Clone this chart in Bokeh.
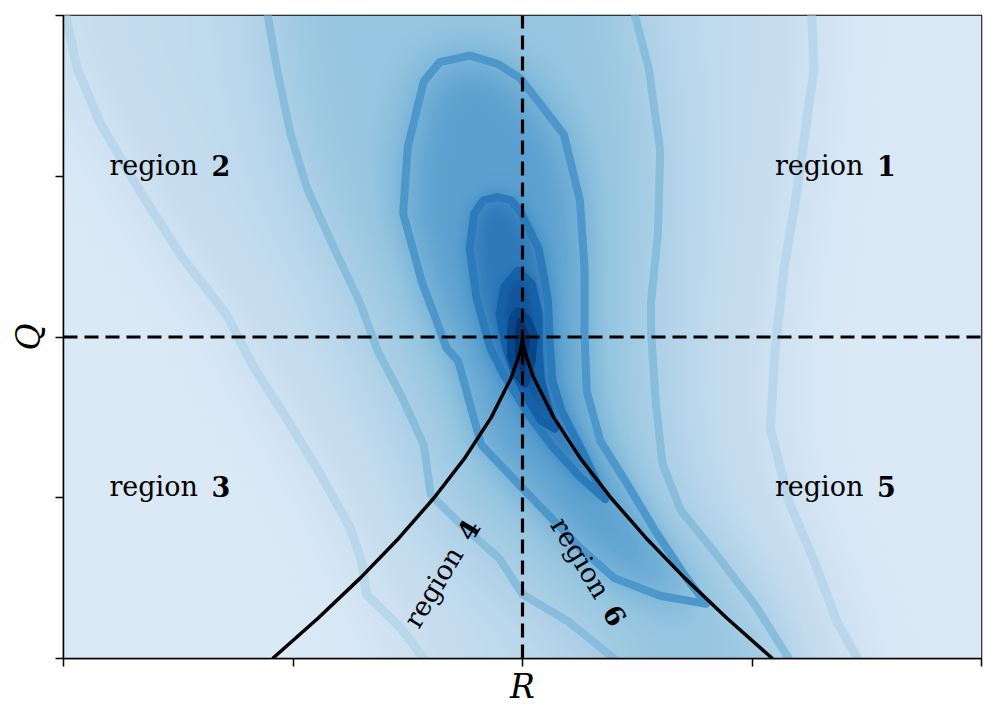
import math
import numpy as np
from bokeh.plotting import figure
from bokeh.models import FixedTicker, Range1d, LinearColorMapper
from bokeh.embed import file_html
from bokeh.resources import INLINE
from bokeh.core.properties import value

# ---------------- data ----------------
r_ticks = [-2, -1, 0, 1, 2]
q_ticks = [-2, -1, 0, 1, 2]

# outermost (lightest) contour level: two open branches (top edge -> bottom edge)
a_left_r = [-1.99, -1.94, -1.84, -1.66, -1.48, -1.29, -1.17, -1.04, -0.89, -0.75, -0.70, -0.68, -0.53, -0.43]
a_left_q = [2.00, 1.67, 1.33, 0.89, 0.49, 0.14, -0.19, -0.48, -0.83, -1.19, -1.40, -1.60, -1.81, -2.00]
a_right_r = [1.26, 1.27, 1.23, 1.19, 1.14, 1.10, 1.08, 1.16, 1.27, 1.37, 1.46]
a_right_q = [2.00, 1.67, 1.26, 0.85, 0.43, -0.09, -0.57, -1.02, -1.39, -1.77, -2.00]

# second contour level: two open branches
b_left_r = [-1.11, -1.07, -1.01, -0.94, -0.82, -0.71, -0.63, -0.53, -0.43, -0.40, -0.28, -0.10, 0.00, 0.20, 0.40]
b_left_q = [2.00, 1.67, 1.26, 0.93, 0.55, 0.22, -0.09, -0.36, -0.67, -0.98, -1.15, -1.38, -1.60, -1.77, -2.00]
b_right_r = [0.49, 0.55, 0.60, 0.59, 0.56, 0.56, 0.58, 0.61, 0.69, 0.81, 1.01, 1.16]
b_right_q = [2.00, 1.67, 1.16, 0.64, 0.22, 0.04, -0.40, -0.79, -1.08, -1.29, -1.66, -2.00]

# third contour level: closed teardrop with a long tail along the right Vieillefosse branch
c_r = [-0.23, -0.11, -0.01, 0.18, 0.25, 0.27, 0.27, 0.28, 0.34, 0.45, 0.58, 0.71, 0.80,
       0.60, 0.40, 0.25, 0.00, -0.18, -0.28, -0.33, -0.44, -0.52, -0.50, -0.43, -0.36, -0.23]
c_q = [1.75, 1.70, 1.61, 1.26, 0.85, 0.43, 0.02, -0.34, -0.65, -0.90, -1.21, -1.49, -1.66,
       -1.61, -1.50, -1.31, -0.94, -0.67, -0.15, -0.07, 0.35, 0.77, 1.18, 1.59, 1.71, 1.75]

# fourth contour level (closed)
d_r = [-0.11, -0.05, -0.01, 0.07, 0.11, 0.12, 0.13, 0.17, 0.25, 0.36,
       0.25, 0.13, 0.03, -0.03, -0.08, -0.14, -0.20, -0.23, -0.21, -0.17, -0.11]
d_q = [0.87, 0.85, 0.78, 0.55, 0.24, -0.07, -0.27, -0.46, -0.68, -1.01,
       -0.87, -0.68, -0.49, -0.35, -0.24, -0.07, 0.24, 0.55, 0.77, 0.85, 0.87]

# fifth contour level (closed)
e_r = [-0.02, 0.04, 0.07, 0.07, 0.08, 0.11, 0.14, 0.08, 0.03, -0.03, -0.07, -0.10, -0.08, -0.02]
e_q = [0.41, 0.33, 0.14, -0.07, -0.27, -0.43, -0.57, -0.52, -0.40, -0.24, -0.07, 0.14, 0.31, 0.41]

# innermost contour level (closed)
f_r = [-0.02, 0.02, 0.05, 0.04, 0.01, -0.02, -0.05, -0.05, -0.04, -0.02]
f_q = [0.16, 0.11, 0.01, -0.15, -0.29, -0.24, -0.12, 0.04, 0.12, 0.16]

# Vieillefosse line, one branch; the other is its mirror
vf_q = [0.00, -0.05, -0.10, -0.25, -0.50, -0.75, -1.00, -1.25, -1.50, -1.75, -2.00]
vf_r = [0.000, 0.004, 0.012, 0.048, 0.136, 0.250, 0.385, 0.538, 0.707, 0.891, 1.089]

# region labels: text, number, anchor (R, Q), angle in degrees
lab_text = ["region", "region", "region", "region", "region", "region"]
lab_num = ["1", "2", "3", "5", "4", "6"]
lab_r = [1.10, -1.80, -1.80, 1.10, -0.488, 0.153]
lab_q = [1.00, 1.00, -1.00, -1.00, -1.792, -1.138]
lab_ang = [0, 0, 0, 0, 59, -58.8]

# ---------------- styling ----------------
LEVEL_COLORS = ["#dbe9f6", "#c1daed", "#95c5e0", "#5aa0cf", "#2f79b9", "#12559c", "#08306b"]
LINE = ["#b9d6ea", "#88bddc", "#4d97cb", "#2b7bbb", "#1461a8", "#08468a"]
BLUR = [40, 36, 20, 8, 4, 2]          # softening of each level's edge, in image pixels
SERIF = "DejaVu Serif"
FW, FH = 918, 643

p = figure(frame_width=FW, frame_height=FH,
           x_range=Range1d(-2, 2), y_range=Range1d(-2, 2),
           output_backend="svg", toolbar_location=None,
           min_border_left=63, min_border_right=12, min_border_top=15, min_border_bottom=55)
p.background_fill_color = LEVEL_COLORS[0]
p.border_fill_color = "white"
p.outline_line_color = "black"
p.outline_line_width = 1.5
p.xgrid.visible = False
p.ygrid.visible = False

# ---- shaded density image built from the read contour polygons ----
a_poly = (a_left_r + a_right_r[::-1], a_left_q + a_right_q[::-1])
b_poly = (b_left_r + b_right_r[::-1], b_left_q + b_right_q[::-1])
polys = [a_poly, b_poly, (c_r, c_q), (d_r, d_q), (e_r, e_q), (f_r, f_q)]

W, H = FW // 2, FH // 2
gx = -2 + (np.arange(W) + 0.5) * 4.0 / W
gy = -2 + (np.arange(H) + 0.5) * 4.0 / H
X, Y = np.meshgrid(gx, gy)


def inside(xs, ys):
    xs = np.asarray(xs, float)
    ys = np.asarray(ys, float)
    c = np.zeros(X.shape, bool)
    n = len(xs)
    j = n - 1
    for i in range(n):
        xi, yi, xj, yj = xs[i], ys[i], xs[j], ys[j]
        cross = (yi > Y) != (yj > Y)
        xint = (xj - xi) * (Y - yi) / ((yj - yi) if yj != yi else 1e-12) + xi
        c ^= cross & (X < xint)
        j = i
    return c.astype(float)


def box_blur(a, r):
    if r < 1:
        return a
    for axis in (0, 1):
        pad = [(0, 0), (0, 0)]
        pad[axis] = (r, r)
        b = np.pad(a, pad, mode="edge")
        cs = np.cumsum(b, axis=axis)
        cs = np.concatenate([np.zeros_like(np.take(cs, [0], axis=axis)), cs], axis=axis)
        n = a.shape[axis]
        hi = np.take(cs, np.arange(2 * r + 1, 2 * r + 1 + n), axis=axis)
        lo = np.take(cs, np.arange(0, n), axis=axis)
        a = (hi - lo) / (2 * r + 1)
    return a


level = np.zeros(X.shape)
for (xs, ys), bl in zip(polys, BLUR):
    m = inside(xs, ys)
    rr = max(1, bl // 2)
    for _ in range(3):
        m = box_blur(m, rr)
    level += m


def hex2rgb(h):
    return [int(h[k:k + 2], 16) for k in (1, 3, 5)]


anchors = [hex2rgb(c) for c in LEVEL_COLORS]
palette = []
N = 256
for k in range(N):
    t = k / (N - 1) * (len(anchors) - 1)
    i0 = min(int(t), len(anchors) - 2)
    f = t - i0
    c = [round(anchors[i0][m] * (1 - f) + anchors[i0 + 1][m] * f) for m in range(3)]
    palette.append("#%02x%02x%02x" % tuple(c))

mapper = LinearColorMapper(palette=palette, low=0, high=len(LEVEL_COLORS) - 1)
p.image(image=[level], x=-2, y=-2, dw=4, dh=4, color_mapper=mapper)

# contour lines
lw = 8
p.line(a_left_r, a_left_q, line_color=LINE[0], line_width=lw + 1, line_join="round", line_cap="round")
p.line(a_right_r, a_right_q, line_color=LINE[0], line_width=lw + 1, line_join="round", line_cap="round")
p.line(b_left_r, b_left_q, line_color=LINE[1], line_width=lw, line_join="round", line_cap="round")
p.line(b_right_r, b_right_q, line_color=LINE[1], line_width=lw, line_join="round", line_cap="round")
for (xs, ys), col in zip(polys[2:], LINE[2:]):
    p.line(xs, ys, line_color=col, line_width=lw, line_join="round", line_cap="round")

# Vieillefosse line
vf_left_r = [-v for v in vf_r[::-1]]
vf_left_q = vf_q[::-1]
p.line(vf_left_r + vf_r[1:], vf_left_q + vf_q[1:], line_color="black", line_width=3.5)

# dashed axes through the origin
p.line([-2, 2], [0, 0], line_color="black", line_width=3.2, line_dash="14 7")
p.line([0, 0], [-2, 2], line_color="black", line_width=3.2, line_dash="14 7")

# region labels
fs = "27px"
px_per_r = FW / 4.0
px_per_q = FH / 4.0
num_gap = 102   # pixels from start of "region" to its number
lift = 11       # pixels: raise horizontal labels so their baseline sits on the anchor
for i in range(len(lab_text)):
    t = math.radians(lab_ang[i])
    ar = lab_r[i]
    aq = lab_q[i] + (lift / px_per_q if lab_ang[i] == 0 else 0)
    nr = ar + num_gap * math.cos(t) / px_per_r
    nq = aq + num_gap * math.sin(t) / px_per_q
    base = "alphabetic" if lab_ang[i] == 0 else "middle"
    p.text([ar], [aq], text=[lab_text[i]], angle=t,
           text_font=value(SERIF), text_font_size=fs, text_align="left", text_baseline=base,
           text_color="black")
    p.text([nr], [nq], text=[lab_num[i]], angle=t,
           text_font=value(SERIF), text_font_style="bold", text_font_size=fs,
           text_align="left", text_baseline=base, text_color="black")

# axes
for ax, ticks in ((p.xaxis, r_ticks), (p.yaxis, q_ticks)):
    ax.ticker = FixedTicker(ticks=ticks)
    ax.major_label_overrides = {t: "" for t in ticks}
    ax.minor_tick_line_color = None
    ax.major_tick_out = 8
    ax.major_tick_in = 0
    ax.major_tick_line_width = 1.5
    ax.axis_line_width = 1.5
    ax.major_label_standoff = 0
    ax.axis_label_text_font = SERIF
    ax.axis_label_text_font_style = "italic"
    ax.axis_label_text_font_size = "33px"
    ax.axis_label_text_color = "black"
p.xaxis.axis_label_standoff = 0
p.yaxis.axis_label_standoff = 8
p.xaxis.axis_label = "R"
p.yaxis.axis_label = "Q"

open("out.html", "w").write(file_html(p, INLINE))
